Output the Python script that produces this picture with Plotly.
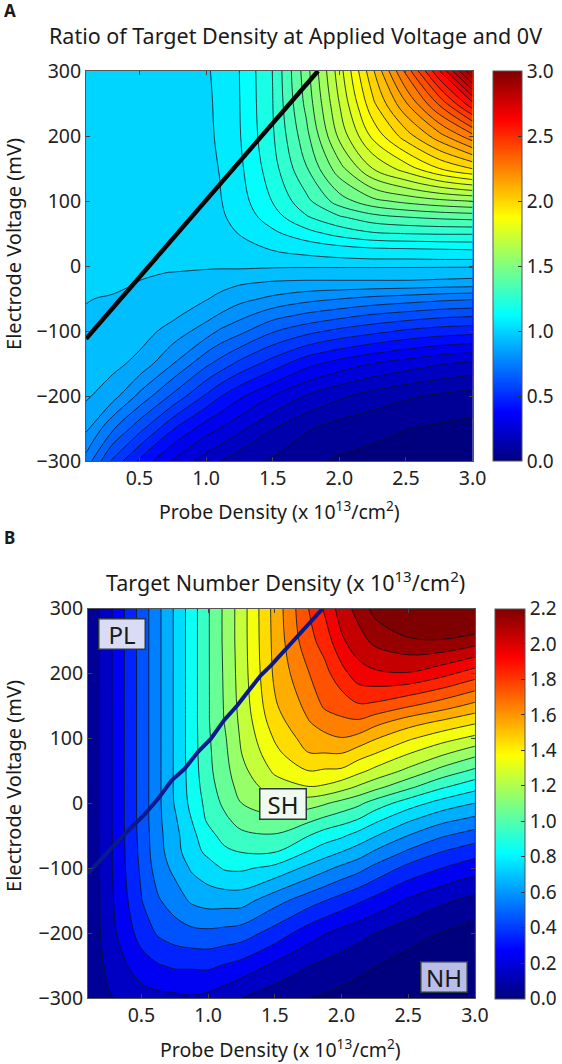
import plotly.graph_objects as go

W, H = 562, 1064
FONT = "Noto Sans"
INK = "#222222"

JET = [[0, "#00007f"], [0.125, "#0000ff"], [0.375, "#00ffff"],
       [0.625, "#ffff00"], [0.875, "#ff0000"], [1, "#7f0000"]]

# Panel A --------------------------------------------------------------
a_probe = [0.1, 0.3, 0.5, 0.75, 1.0, 1.1, 1.25, 1.5, 1.75, 2.0, 2.25, 2.5, 2.75, 3.0]
a_volt = [-300, -250, -200, -150, -100, -75, -50, -25, -10, 0, 10, 25, 50, 75, 100, 150, 200, 250, 300]
a_ratio = [
    [0.74, 0.55, 0.42, 0.29, 0.20, 0.17, 0.13, 0.09, 0.045, 0.025, 0.015, 0.01, 0.005, 0.002],
    [0.845, 0.71, 0.59, 0.44, 0.33, 0.30, 0.25, 0.17, 0.11, 0.07, 0.05, 0.035, 0.022, 0.014],
    [0.91, 0.86, 0.75, 0.62, 0.49, 0.44, 0.38, 0.30, 0.23, 0.18, 0.14, 0.11, 0.09, 0.07],
    [0.93, 0.92, 0.88, 0.77, 0.65, 0.61, 0.55, 0.47, 0.39, 0.34, 0.30, 0.27, 0.24, 0.22],
    [0.95, 0.94, 0.93, 0.875, 0.80, 0.76, 0.72, 0.64, 0.59, 0.55, 0.52, 0.49, 0.47, 0.46],
    [0.96, 0.95, 0.945, 0.915, 0.86, 0.83, 0.79, 0.73, 0.69, 0.66, 0.63, 0.61, 0.59, 0.58],
    [0.97, 0.96, 0.955, 0.94, 0.905, 0.885, 0.855, 0.82, 0.79, 0.77, 0.75, 0.735, 0.72, 0.71],
    [0.995, 0.985, 0.965, 0.955, 0.94, 0.925, 0.91, 0.895, 0.89, 0.89, 0.89, 0.89, 0.885, 0.88],
    [1.0, 0.995, 0.975, 0.965, 0.955, 0.95, 0.95, 0.945, 0.94, 0.94, 0.94, 0.94, 0.935, 0.93],
    [1.0, 1.0, 1.0, 0.99, 0.98, 0.98, 0.98, 0.975, 0.975, 0.975, 0.975, 0.975, 0.975, 0.975],
    [1.0, 1.0, 1.0, 1.0, 1.0, 1.0, 1.005, 1.01, 1.02, 1.025, 1.03, 1.03, 1.033, 1.033],
    [1.0, 1.0, 1.0, 1.0, 1.0, 1.005, 1.015, 1.035, 1.05, 1.07, 1.085, 1.09, 1.095, 1.10],
    [1.0, 1.0, 1.0, 1.0, 1.005, 1.015, 1.035, 1.085, 1.14, 1.19, 1.225, 1.235, 1.24, 1.24],
    [1.0, 1.0, 1.0, 1.0, 1.01, 1.022, 1.055, 1.135, 1.225, 1.29, 1.34, 1.365, 1.38, 1.39],
    [1.0, 1.0, 1.0, 1.0, 1.012, 1.028, 1.07, 1.17, 1.28, 1.40, 1.48, 1.52, 1.55, 1.57],
    [1.0, 1.0, 1.0, 1.0, 1.015, 1.035, 1.085, 1.205, 1.36, 1.54, 1.70, 1.80, 1.90, 1.97],
    [1.0, 1.0, 1.0, 1.002, 1.02, 1.042, 1.095, 1.225, 1.41, 1.65, 1.85, 2.0, 2.14, 2.28],
    [1.0, 1.0, 1.0, 1.004, 1.022, 1.045, 1.098, 1.232, 1.45, 1.70, 1.95, 2.16, 2.38, 2.62],
    [1.0, 1.0, 1.0, 1.005, 1.025, 1.05, 1.10, 1.235, 1.47, 1.735, 2.02, 2.32, 2.63, 2.97],
]
a_line_probe = [0.1, 1.84]
a_line_volt = [-112, 300]

# Panel B --------------------------------------------------------------
b_probe = [0.1, 0.25, 0.375, 0.5, 0.625, 0.75, 0.875, 1.0, 1.125, 1.25, 1.5, 1.75, 1.875, 2.0, 2.125, 2.25, 2.5, 2.75, 3.0]
b_volt = [-300, -250, -200, -150, -100, -75, -50, -25, 0, 25, 50, 75, 100, 125, 150, 200, 250, 300]
b_density = [
    [0.10, 0.172, 0.21, 0.235, 0.25, 0.255, 0.265, 0.25, 0.22, 0.18, 0.13, 0.0917, 0.08, 0.065, 0.05, 0.04, 0.02, 0.01, 0.005],
    [0.10, 0.205, 0.265, 0.325, 0.36, 0.38, 0.38, 0.385, 0.36, 0.335, 0.255, 0.188, 0.16, 0.14, 0.115, 0.095, 0.055, 0.03, 0.02],
    [0.10, 0.235, 0.315, 0.405, 0.47, 0.505, 0.525, 0.53, 0.52, 0.505, 0.42, 0.32, 0.28, 0.245, 0.215, 0.185, 0.13, 0.09, 0.055],
    [0.10, 0.24, 0.345, 0.455, 0.54, 0.595, 0.655, 0.68, 0.68, 0.68, 0.585, 0.50, 0.46, 0.42, 0.38, 0.34, 0.26, 0.20, 0.155],
    [0.10, 0.245, 0.362, 0.475, 0.595, 0.665, 0.745, 0.79, 0.835, 0.84, 0.80, 0.71, 0.665, 0.62, 0.58, 0.525, 0.43, 0.367, 0.31],
    [0.10, 0.245, 0.365, 0.485, 0.61, 0.695, 0.79, 0.845, 0.895, 0.92, 0.92, 0.82, 0.775, 0.733, 0.69, 0.63, 0.535, 0.458, 0.405],
    [0.10, 0.245, 0.368, 0.49, 0.615, 0.705, 0.80, 0.88, 0.955, 0.985, 1.0, 0.92, 0.87, 0.84, 0.79, 0.74, 0.64, 0.56, 0.505],
    [0.10, 0.245, 0.37, 0.495, 0.62, 0.72, 0.825, 0.935, 0.99, 1.05, 1.075, 1.03, 0.99, 0.955, 0.915, 0.85, 0.75, 0.67, 0.62],
    [0.10, 0.245, 0.37, 0.495, 0.62, 0.74, 0.85, 0.95, 1.03, 1.10, 1.16, 1.14, 1.11, 1.07, 1.03, 0.97, 0.87, 0.79, 0.733],
    [0.10, 0.245, 0.37, 0.495, 0.62, 0.745, 0.86, 0.97, 1.055, 1.135, 1.24, 1.28, 1.27, 1.23, 1.18, 1.13, 1.03, 0.93, 0.855],
    [0.10, 0.245, 0.37, 0.495, 0.62, 0.745, 0.865, 0.985, 1.07, 1.165, 1.30, 1.375, 1.365, 1.36, 1.31, 1.26, 1.17, 1.07, 0.99],
    [0.10, 0.245, 0.37, 0.495, 0.62, 0.745, 0.87, 0.99, 1.08, 1.19, 1.345, 1.46, 1.46, 1.46, 1.41, 1.37, 1.28, 1.20, 1.12],
    [0.10, 0.245, 0.37, 0.495, 0.62, 0.745, 0.87, 0.995, 1.09, 1.205, 1.385, 1.51, 1.535, 1.555, 1.53, 1.475, 1.39, 1.32, 1.26],
    [0.10, 0.245, 0.37, 0.495, 0.62, 0.745, 0.87, 1.0, 1.105, 1.215, 1.425, 1.553, 1.60, 1.63, 1.635, 1.59, 1.51, 1.45, 1.39],
    [0.10, 0.245, 0.37, 0.495, 0.62, 0.745, 0.87, 1.0, 1.11, 1.225, 1.455, 1.585, 1.665, 1.69, 1.73, 1.72, 1.66, 1.60, 1.53],
    [0.10, 0.245, 0.37, 0.495, 0.62, 0.745, 0.87, 1.0, 1.115, 1.235, 1.485, 1.645, 1.715, 1.80, 1.885, 1.91, 1.92, 1.865, 1.79],
    [0.10, 0.245, 0.37, 0.495, 0.62, 0.745, 0.87, 1.0, 1.12, 1.24, 1.495, 1.71, 1.78, 1.91, 1.98, 2.04, 2.09, 2.10, 2.06],
    [0.10, 0.245, 0.37, 0.495, 0.62, 0.745, 0.87, 1.0, 1.12, 1.24, 1.50, 1.74, 1.85, 1.97, 2.05, 2.14, 2.26, 2.29, 2.29],
]
b_line_probe = [0.1, 0.18, 0.377, 0.52, 0.625, 0.725, 0.824, 0.923, 1.02, 1.12, 1.22, 1.295, 1.395, 1.47, 1.57, 1.72, 1.86]
b_line_volt = [-108, -90, -47, -18, 7, 35, 53, 79, 99, 128, 151, 171, 197, 212, 235, 268, 300]

region_labels = ["PL", "SH", "NH"]
region_probe = [0.353, 1.565, 2.77]
region_volt = [260, -1.5, -267]
region_fill = ["#d9dcf4", "#f0f9f0", "#b9bde8"]

volt_ticks = [-300, -200, -100, 0, 100, 200, 300]
probe_ticks = [0.5, 1.0, 1.5, 2.0, 2.5, 3.0]
a_bar_ticks = [0.0, 0.5, 1.0, 1.5, 2.0, 2.5, 3.0]
b_bar_ticks = [0.0, 0.2, 0.4, 0.6, 0.8, 1.0, 1.2, 1.4, 1.6, 1.8, 2.0, 2.2]

# Pixel boxes ----------------------------------------------------------
A = dict(l=86.7, r=476.0, t=71.0, b=461.0, bl=497.0, br=526.0)
B = dict(l=88.7, r=478.3, t=608.5, b=998.0, bl=499.0, br=528.5)

fig = go.Figure()


def bar(box, ticks):
    return dict(
        thickness=box["br"] - box["bl"], thicknessmode="pixels",
        len=box["b"] - box["t"], lenmode="pixels",
        x=box["bl"] / W, xanchor="left", xpad=0,
        y=1 - box["t"] / H, yanchor="top", ypad=0,
        tickvals=ticks, tickformat=".1f", ticks="inside", ticklen=4,
        tickcolor="#333333", tickwidth=1,
        tickfont=dict(family=FONT, size=19, color=INK),
        outlinecolor="#555555", outlinewidth=1,
    )


def panel(x, y, z, xa, ya, box, ticks, zmax, start, size, end):
    # The heatmap sits fully under the contour fill and supplies the smooth colour bar.
    fig.add_trace(go.Heatmap(
        x=x, y=y, z=z, xaxis=xa, yaxis=ya, colorscale=JET, zmin=0, zmax=zmax,
        colorbar=bar(box, ticks), hoverinfo="skip"))
    fig.add_trace(go.Contour(
        x=x, y=y, z=z, xaxis=xa, yaxis=ya, colorscale=JET, zmin=0, zmax=zmax, showscale=False,
        autocontour=False, contours=dict(start=start, end=end, size=size, coloring="fill"),
        line=dict(width=0, smoothing=1), hoverinfo="skip"))
    fig.add_trace(go.Contour(
        x=x, y=y, z=z, xaxis=xa, yaxis=ya, showscale=False,
        autocontour=False, contours=dict(start=start, end=end, size=size, coloring="none"),
        line=dict(width=1, color="rgba(0,20,30,0.8)", smoothing=1), hoverinfo="skip"))


panel(a_probe, a_volt, a_ratio, "x", "y", A, a_bar_ticks, 3.0, 0.0333, 0.06667, 2.97)
fig.add_trace(go.Scatter(x=a_line_probe, y=a_line_volt, xaxis="x", yaxis="y", mode="lines",
                         line=dict(color="#050505", width=4.5), showlegend=False, hoverinfo="skip"))

panel(b_probe, b_volt, b_density, "x2", "y2", B, b_bar_ticks, 2.2, 0.0917, 0.0917, 2.2)
fig.add_trace(go.Scatter(x=b_line_probe, y=b_line_volt, xaxis="x2", yaxis="y2", mode="lines",
                         line=dict(color="#0a1a8c", width=4), showlegend=False, hoverinfo="skip"))


def axis(box, horizontal, anchor):
    lo, hi = (box["l"] / W, box["r"] / W) if horizontal else (1 - box["b"] / H, 1 - box["t"] / H)
    return dict(
        domain=[lo, hi], anchor=anchor,
        range=[0.1, 3.0] if horizontal else [-300, 300],
        tickvals=probe_ticks if horizontal else volt_ticks,
        tickformat=".1f" if horizontal else "d",
        ticks="inside", ticklen=4, tickcolor="#444444", mirror="ticks",
        showgrid=False, zeroline=False, showline=True, linecolor="#555555", linewidth=1,
        tickfont=dict(family=FONT, size=19.5, color=INK), automargin=False,
    )


annotations = [
    dict(text="<b>A</b>", x=2 / W, y=1 - 10 / H, font=dict(size=17)),
    dict(text="<b>B</b>", x=2 / W, y=1 - 537 / H, font=dict(size=17)),
    dict(text="Ratio of Target Density at Applied Voltage and 0V", x=298 / W, y=1 - 35 / H, xanchor="center",
         font=dict(size=21.5)),
    dict(text="Target Number Density (x 10<sup>13</sup>/cm<sup>2</sup>)", x=288 / W, y=1 - 581 / H, xanchor="center",
         font=dict(size=21.5)),
    dict(text="Probe Density (x 10<sup>13</sup>/cm<sup>2</sup>)", x=281 / W, y=1 - 510 / H, xanchor="center",
         font=dict(size=19.5)),
    dict(text="Probe Density (x 10<sup>13</sup>/cm<sup>2</sup>)", x=283 / W, y=1 - 1048 / H, xanchor="center",
         font=dict(size=19.5)),
    dict(text="Electrode Voltage (mV)", x=13 / W, y=1 - 244 / H, xanchor="center", textangle=-90,
         font=dict(size=20)),
    dict(text="Electrode Voltage (mV)", x=13 / W, y=1 - 786 / H, xanchor="center", textangle=-90,
         font=dict(size=20)),
]
for a in annotations:
    a.update(xref="paper", yref="paper", showarrow=False)
    a.setdefault("xanchor", "left")
    a["yanchor"] = "middle"
    a["font"].update(family=FONT, color="#1a1a1a")

for label, px, pv, fill in zip(region_labels, region_probe, region_volt, region_fill):
    annotations.append(dict(
        text=label, x=px, y=pv, xref="x2", yref="y2", showarrow=False, width=45, height=29,
        bgcolor=fill, bordercolor="#2a3a3a", borderwidth=1.5, borderpad=0,
        font=dict(family=FONT, size=24, color="#1a1a1a")))

fig.update_layout(
    width=W, height=H, autosize=False, margin=dict(l=0, r=0, t=0, b=0),
    paper_bgcolor="white", plot_bgcolor="white", showlegend=False,
    xaxis=axis(A, True, "y"), yaxis=axis(A, False, "x"),
    xaxis2=axis(B, True, "y2"), yaxis2=axis(B, False, "x2"),
    annotations=annotations,
)

fig.write_html("out.html", config={"displayModeBar": False},
               post_script="document.body.style.margin='0';document.documentElement.style.overflow='hidden';")
